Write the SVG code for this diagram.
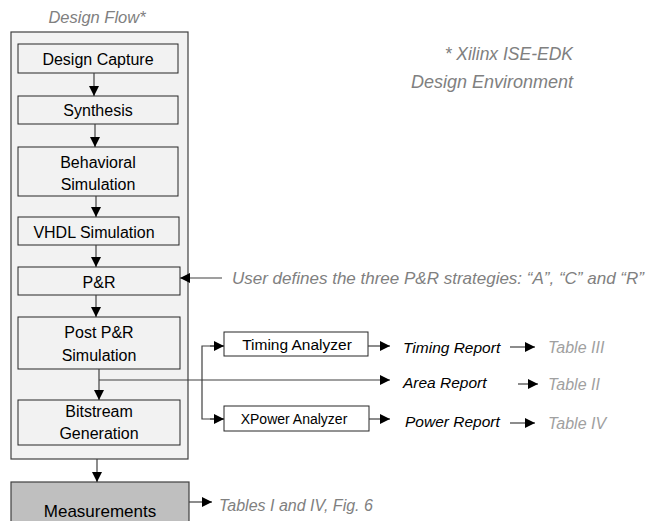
<svg xmlns="http://www.w3.org/2000/svg" width="648" height="521" viewBox="0 0 648 521">
<defs>
<style>
.box{fill:#f2f2f2;stroke:#262626;stroke-width:1}
.cont{fill:#f2f2f2;stroke:#404040;stroke-width:1.2}
.meas{fill:#bfbfbf;stroke:#404040;stroke-width:1.2}
.t{font-family:"Liberation Sans",Arial,sans-serif;font-size:16px;fill:#000;text-anchor:middle}
.it{font-family:"Liberation Sans",Arial,sans-serif;font-size:15.5px;font-style:italic;fill:#000}
.gi{font-family:"Liberation Sans",Arial,sans-serif;font-size:16.5px;font-style:italic;fill:#808080}
.gt{font-family:"Liberation Sans",Arial,sans-serif;font-size:16px;font-style:italic;fill:#a0a0a0}
.ln{fill:none;stroke:#404040;stroke-width:1.2}
</style>
<marker id="ah" viewBox="0 0 10 10" refX="10" refY="5" markerWidth="10" markerHeight="10" markerUnits="userSpaceOnUse" orient="auto">
<path d="M0,0 L10,5 L0,10 Z" fill="#000"/>
</marker>
</defs>
<rect width="648" height="521" fill="#fff"/>
<text class="gi" x="97" y="23" text-anchor="middle">Design Flow*</text>
<g id="container"><rect class="cont" x="11" y="32" width="177" height="427"/></g>
<g id="design-capture"><rect class="box" x="18" y="44" width="160" height="29"/><text class="t" x="98" y="65">Design Capture</text></g>
<g id="synthesis"><rect class="box" x="18" y="96" width="160" height="28"/><text class="t" x="98" y="116">Synthesis</text></g>
<g id="behavioral"><rect class="box" x="18" y="147" width="160" height="49"/><text class="t" x="98" y="168">Behavioral</text><text class="t" x="98" y="190">Simulation</text></g>
<g id="vhdl"><rect class="box" x="18" y="217" width="161" height="28"/><text class="t" x="94" y="238">VHDL Simulation</text></g>
<g id="pr"><rect class="box" x="18" y="267" width="162" height="28"/><text class="t" x="99" y="288">P&amp;R</text></g>
<g id="postpr"><rect class="box" x="18" y="317" width="162" height="52"/><text class="t" x="99" y="338">Post P&amp;R</text><text class="t" x="99" y="361">Simulation</text></g>
<g id="bitstream"><rect class="box" x="18" y="400" width="162" height="45"/><text class="t" x="99" y="417">Bitstream</text><text class="t" x="99" y="439">Generation</text></g>
<g id="measurements"><rect class="meas" x="11" y="482" width="178" height="45"/><text class="t" x="100" y="517" style="font-size:17px">Measurements</text></g>
<g id="timing-analyzer"><rect class="box" x="224" y="332" width="144" height="24" style="fill:#fff"/><text class="t" x="297" y="350" style="font-size:15.5px">Timing Analyzer</text></g>
<g id="xpower-analyzer"><rect class="box" x="224" y="406" width="145" height="25" style="fill:#fff"/><text class="t" x="294" y="424" style="font-size:14px">XPower Analyzer</text></g>
<g id="labels">
<text class="gi" x="573" y="60" text-anchor="end" style="font-size:17.5px">* Xilinx ISE-EDK</text>
<text class="gi" x="573" y="88" text-anchor="end" style="font-size:18px">Design Environment</text>
<text class="gi" x="232" y="284" style="font-size:17px">User defines the three P&amp;R strategies: “A”, “C” and “R”</text>
<text class="it" x="403" y="353">Timing Report</text>
<text class="it" x="403" y="388">Area Report</text>
<text class="it" x="405" y="427">Power Report</text>
<text class="gt" x="548" y="353">Table III</text>
<text class="gt" x="548" y="390">Table II</text>
<text class="gt" x="548" y="429">Table IV</text>
<text class="gi" x="219" y="511" style="font-size:16px">Tables I and IV, Fig. 6</text>
</g>
<g id="connectors">
<path class="ln" d="M94,73 V96" marker-end="url(#ah)"/>
<path class="ln" d="M95,124 V147" marker-end="url(#ah)"/>
<path class="ln" d="M96,196 V217" marker-end="url(#ah)"/>
<path class="ln" d="M96,245 V267" marker-end="url(#ah)"/>
<path class="ln" d="M96,295 V317" marker-end="url(#ah)"/>
<path class="ln" d="M99,369 V400" marker-end="url(#ah)"/>
<path class="ln" d="M97,459 V482" marker-end="url(#ah)"/>
<path class="ln" d="M222,278 H180" marker-end="url(#ah)"/>
<path class="ln" d="M99,380 H390" marker-end="url(#ah)"/>
<path class="ln" d="M224,346 H202 V419 H224" />
<path class="ln" d="M210,346 H224" marker-end="url(#ah)"/>
<path class="ln" d="M210,419 H224" marker-end="url(#ah)"/>
<path class="ln" d="M368,346 H390" marker-end="url(#ah)"/>
<path class="ln" d="M369,419 H390" marker-end="url(#ah)"/>
<path class="ln" d="M510,347 H535" marker-end="url(#ah)"/>
<path class="ln" d="M518,384 H538" marker-end="url(#ah)"/>
<path class="ln" d="M510,423 H535" marker-end="url(#ah)"/>
<path class="ln" d="M189,502 H212" marker-end="url(#ah)"/>
</g>
</svg>
